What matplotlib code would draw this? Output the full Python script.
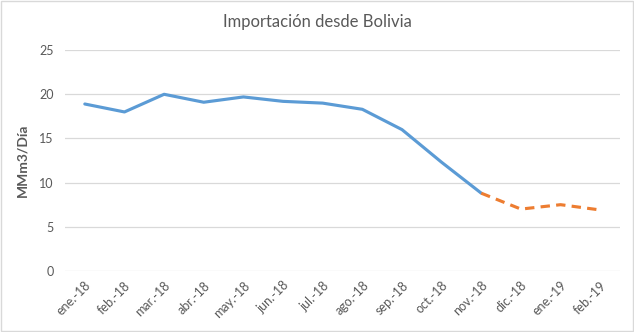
import numpy as np
import matplotlib.pyplot as plt

plt.rcParams['font.family'] = ['Lato', 'DejaVu Sans']

meses = ['ene.-18', 'feb.-18', 'mar.-18', 'abr.-18', 'may.-18', 'jun.-18', 'jul.-18',
         'ago.-18', 'sep.-18', 'oct.-18', 'nov.-18', 'dic.-18', 'ene.-19', 'feb.-19']
real = [18.9, 18.0, 20.0, 19.1, 19.7, 19.2, 19.0, 18.3, 16.0, 12.3, 8.8]
proy = [8.8, 7.0, 7.5, 6.9]

gris = '#595959'
fig = plt.figure(figsize=(6.34, 3.32), dpi=100)
ax = fig.add_axes([0.1025, 0.184, 0.8755, 0.665])

x = np.arange(len(meses))
ax.plot(x[:len(real)], real, color='#5B9BD5', lw=2.25, solid_capstyle='round')
ax.plot(x[len(real) - 1:], proy, color='#ED7D31', lw=2.25, ls=(0, (3, 2)))

ax.set_xlim(-0.5, len(meses) - 0.5)
ax.set_ylim(0, 25)
ax.set_yticks([0, 5, 10, 15, 20, 25])
ax.set_xticks(x)
ax.set_xticklabels(meses, rotation=45, ha='right', rotation_mode='anchor')
ax.tick_params(axis='both', length=0, colors=gris, labelsize=9)
ax.tick_params(axis='x', pad=6)
ax.tick_params(axis='y', pad=8)
ax.grid(axis='y', color='#D9D9D9', lw=0.9)
ax.set_axisbelow(True)
for s in ax.spines.values():
    s.set_visible(False)

ax.set_ylabel('MMm3/Día', color=gris, fontsize=10, fontweight='bold', labelpad=8)
fig.text(0.5, 0.935, 'Importación desde Bolivia', ha='center', va='center', color=gris, fontsize=12)

fig.patches.append(plt.Rectangle((0.002, 0.003), 0.996, 0.994, transform=fig.transFigure,
                                 fill=False, ec='#D9D9D9', lw=1))
fig.savefig('out.png', dpi=100)
